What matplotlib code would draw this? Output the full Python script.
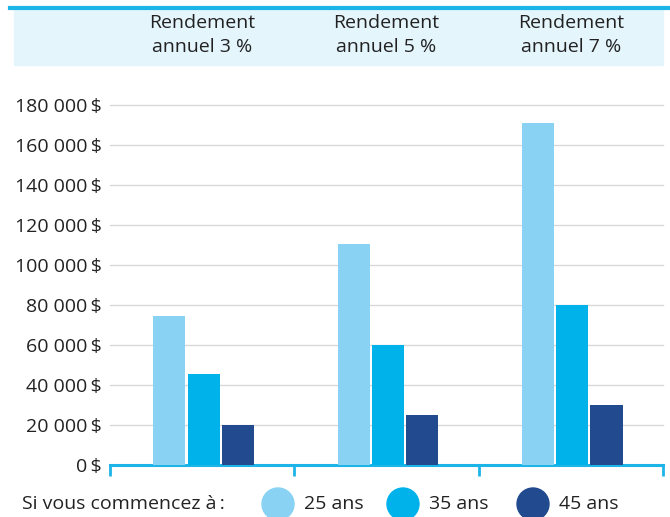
import matplotlib.pyplot as plt
import matplotlib.patches as mpatches
import numpy as np

plt.rcParams['font.family'] = ['Open Sans', 'DejaVu Sans']

groupes = ['Rendement\nannuel 3 %', 'Rendement\nannuel 5 %', 'Rendement\nannuel 7 %']
series = ['25 ans', '35 ans', '45 ans']
valeurs = {
    '25 ans': [74500, 110500, 171000],
    '35 ans': [45500, 60000, 80000],
    '45 ans': [20000, 25000, 30000],
}
couleurs = ['#8AD2F4', '#00B2EA', '#224A8F']
yticks = [0, 20000, 40000, 60000, 80000, 100000, 120000, 140000, 160000, 180000]

W, H = 670, 517
fig = plt.figure(figsize=(W / 100, H / 100), dpi=100)
fs = 14
txt = '#222222'

# axes en pixels
gauche, droite, haut, bas = 110, 663, 105, 465
ax = fig.add_axes([gauche / W, 1 - bas / H, (droite - gauche) / W, (bas - haut) / H])

x = np.arange(len(groupes))
larg = 0.175
for i, s in enumerate(series):
    ax.bar(x + 0.008 + (i - 1) * (larg + 0.011), valeurs[s], width=larg, color=couleurs[i], zorder=3)

ax.set_xlim(-0.5, 2.5)
ax.set_ylim(0, 180000)
ax.set_yticks(yticks)
ax.set_yticklabels([f"{v:,}".replace(",", " ") + "\u2009$" for v in yticks], fontsize=fs, color=txt)
ax.tick_params(axis='y', length=0, pad=6)
ax.set_xticks([-0.5, 0.5, 1.5, 2.5])
ax.set_xticklabels([])
ax.tick_params(axis='x', length=8, width=2, color='#1DB4E8', direction='out')
for yv in yticks[1:]:
    ax.axhline(yv, color='#D9D9D9', lw=1, zorder=1, clip_on=False)
for sp in ['top', 'right', 'left']:
    ax.spines[sp].set_visible(False)
ax.spines['bottom'].set_color('#1DB4E8')
ax.spines['bottom'].set_linewidth(2.2)

# bandeau d'en-tete
fig.patches.append(mpatches.Rectangle((14 / W, 1 - 65 / H), (663 - 14) / W, 57 / H,
                                      transform=fig.transFigure, color='#E4F5FC', zorder=0))
fig.add_artist(plt.Line2D([10 / W, 1], [1 - 8 / H, 1 - 8 / H], transform=fig.transFigure,
                          color='#1DB4E8', lw=3))
for i, g in enumerate(groupes):
    xc = gauche + (droite - gauche) * (i + 0.5) / 3
    fig.text(xc / W, 1 - 35 / H, g, ha='center', va='center', fontsize=fs,
             color=txt, linespacing=1.4)

# legende
fig.text(22 / W, 1 - 504 / H, 'Si vous commencez à\u2009:', ha='left', va='center', fontsize=fs, color=txt)
pos_cercles = [278, 403, 533]
for i, s in enumerate(series):
    cx = pos_cercles[i]
    fig.patches.append(mpatches.Ellipse((cx / W, 1 - 504 / H), 32 / W, 32 / H,
                                        transform=fig.transFigure, color=couleurs[i]))
    fig.text((cx + 26) / W, 1 - 504 / H, s, ha='left', va='center', fontsize=fs, color=txt)

fig.savefig('out.png', dpi=100)
